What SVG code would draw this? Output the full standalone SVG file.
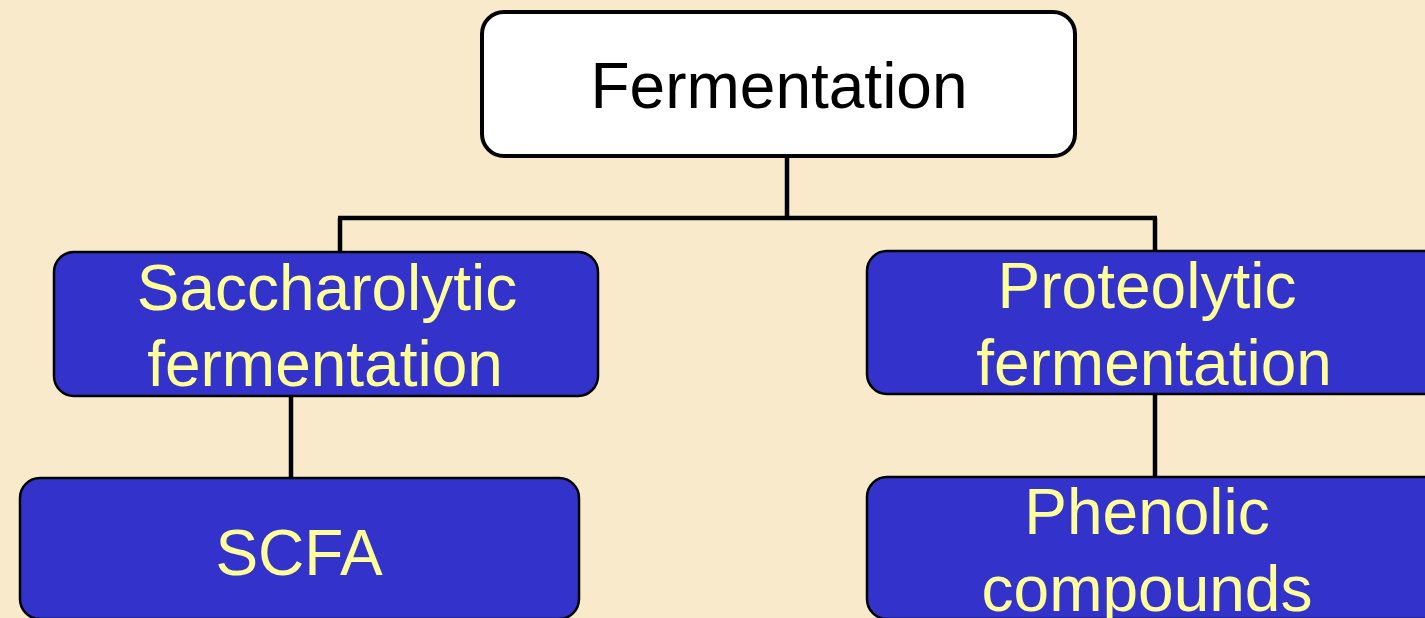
<svg xmlns="http://www.w3.org/2000/svg" width="1425" height="618" viewBox="0 0 1425 618">
<style>
.bg{fill:#F8EACB}
.root{fill:#FFFFFF;stroke:#000;stroke-width:4}
.node{fill:#3333CC;stroke:#000;stroke-width:2.5}
.conn{fill:none;stroke:#000;stroke-width:4.5}
.t{font-family:"Liberation Sans",Arial,sans-serif;font-size:64px;text-anchor:middle}
.tb{fill:#000}
.ty{fill:#FFFF99}
</style>
<rect class="bg" x="0" y="0" width="1425" height="618"/>
<g id="connectors">
<path class="conn" d="M787 157 V218 M338 218 H1157 M340 218 V252 M1155 218 V251"/>
<path class="conn" d="M291 396 V478"/>
<path class="conn" d="M1155 394 V478"/>
</g>
<g id="fermentation">
<rect class="root" x="482" y="12" width="593" height="144" rx="22"/>
<text class="t tb" x="779" y="108">Fermentation</text>
</g>
<g id="saccharolytic">
<rect class="node" x="54" y="252" width="544" height="144" rx="20"/>
<text class="t ty" x="327" y="310">Saccharolytic</text>
<text class="t ty" x="325" y="386">fermentation</text>
</g>
<g id="proteolytic">
<rect class="node" x="867" y="251" width="580" height="143" rx="20"/>
<text class="t ty" x="1147" y="308">Proteolytic</text>
<text class="t ty" x="1154" y="385">fermentation</text>
</g>
<g id="scfa">
<rect class="node" x="20" y="478" width="559" height="141" rx="20"/>
<text class="t ty" x="299" y="575">SCFA</text>
</g>
<g id="phenolic">
<rect class="node" x="867" y="477" width="580" height="142" rx="20"/>
<text class="t ty" x="1147" y="534">Phenolic</text>
<text class="t ty" x="1147" y="611">compounds</text>
</g>
</svg>
